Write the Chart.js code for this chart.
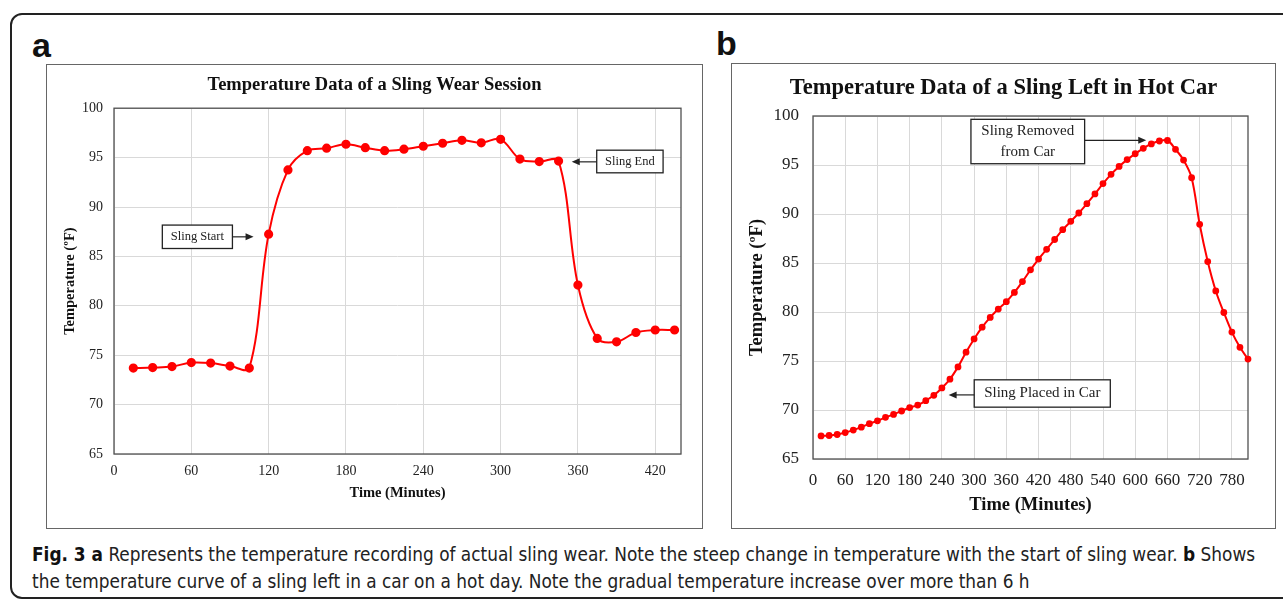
<html>
<head>
<script src="https://cdn.jsdelivr.net/npm/chart.js"></script>
<style>
  body { margin:0; background:#fff; }
  #page { position:relative; width:1283px; height:599px; overflow:hidden; }
  #frame { position:absolute; left:10px; top:13px; width:1300px; height:582px; border:2px solid #222; border-radius:12px; }
  .panel { position:absolute; border:1px solid #666; background:#fff; }
  .panel canvas { position:absolute; left:0; top:0; }
  .tag { position:absolute; font-family:'Liberation Sans', Arial, sans-serif; font-weight:bold; font-size:34px; line-height:34px; color:#111; }
  #caption { position:absolute; left:32px; top:541px; font-family:'Liberation Sans Narrow', 'DejaVu Sans Condensed', 'Open Sans', sans-serif; font-stretch:condensed; font-size:17px; line-height:27px; color:#222; white-space:nowrap; }
  #caption b { font-weight:bold; color:#111; }
</style>
</head>
<body>
<div id="page">
  <div id="frame"></div>
  <div class="tag" style="left:32px; top:28px;">a</div>
  <div class="tag" style="left:716px; top:26px;">b</div>
  <div class="panel" style="left:46px; top:64px; width:655px; height:463px;">
    <canvas id="chartA" width="655" height="463"></canvas>
  </div>
  <div class="panel" style="left:731px; top:63px; width:543px; height:464px;">
    <canvas id="chartB" width="543" height="464"></canvas>
  </div>
  <div id="caption"><span id="line1"><b>Fig. 3 a</b> Represents the temperature recording of actual sling wear. Note the steep change in temperature with the start of sling wear. <b>b</b> Shows</span><br>the temperature curve of a sling left in a car on a hot day. Note the gradual temperature increase over more than 6 h</div>
</div>
<script>
// Panel a: sling wear session, reading every 15 min
const timeA = [15, 30, 45, 60, 75, 90, 105, 120, 135, 150, 165, 180, 195, 210, 225,
               240, 255, 270, 285, 300, 315, 330, 345, 360, 375, 390, 405, 420, 435];
const tempA = [73.7, 73.75, 73.85, 74.25, 74.2, 73.9, 73.7, 87.25, 93.75, 95.7, 95.95, 96.35, 96.0, 95.7, 95.85,
               96.15, 96.45, 96.75, 96.5, 96.85, 94.85, 94.6, 94.65, 82.1, 76.7, 76.35, 77.3, 77.55, 77.55];

// Panel b: sling left in hot car, reading every 15 min
const timeB = [15, 30, 45, 60, 75, 90, 105, 120, 135, 150, 165, 180, 195, 210, 225, 240, 255, 270,
               285, 300, 315, 330, 345, 360, 375, 390, 405, 420, 435, 450, 465, 480, 495, 510, 525, 540,
               555, 570, 585, 600, 615, 630, 645, 660, 675, 690, 705, 720, 735, 750, 765, 780, 795, 810];
const tempB = [67.35, 67.4, 67.5, 67.7, 67.95, 68.25, 68.6, 68.9, 69.25, 69.55, 69.9, 70.25, 70.5, 70.95, 71.5, 72.25, 73.15, 74.4,
               75.9, 77.25, 78.45, 79.45, 80.3, 81.05, 82.0, 83.1, 84.3, 85.4, 86.4, 87.4, 88.4, 89.25, 90.1, 91.05, 92.05, 93.1,
               94.05, 94.85, 95.55, 96.15, 96.7, 97.15, 97.45, 97.5, 96.6, 95.5, 93.7, 88.95, 85.15, 82.15, 79.95, 77.95, 76.4, 75.2];

const titleA = 'Temperature Data of a Sling Wear Session';
const titleB = 'Temperature Data of a Sling Left in Hot Car';
const xLabel = 'Time (Minutes)';
const yLabel = 'Temperature (\u00baF)';

// callout boxes, in data units: box [x1, y1, x2, y2], arrow from -> to
const notesA = [
  { lines: ['Sling Start'], box: [37.5, 88.17, 91.9, 85.8], from: [91.9, 86.98], to: [108.3, 86.98] },
  { lines: ['Sling End'], box: [374.6, 95.75, 426.1, 93.46], from: [374.6, 94.57], to: [355.2, 94.57] }
];
const notesB = [
  { lines: ['Sling Removed', 'from Car'], box: [294.1, 99.66, 505.8, 95.13], from: [505.8, 97.52], to: [620.5, 97.52] },
  { lines: ['Sling Placed in Car'], box: [300.2, 73.08, 553.6, 70.29], from: [300.2, 71.54], to: [252.6, 71.54] }
];

const serif = "'Liberation Serif', 'Times New Roman', serif";

// plot area border + callouts
const extras = {
  id: 'extras',
  beforeDatasetsDraw(chart) {
    const {ctx, chartArea: a} = chart;
    ctx.save();
    ctx.strokeStyle = '#505050';
    ctx.lineWidth = 1.3;
    ctx.strokeRect(a.left, a.top, a.right - a.left, a.bottom - a.top);
    ctx.restore();
  },
  afterDatasetsDraw(chart, args, opts) {
    const {ctx, scales: {x, y}} = chart;
    ctx.save();
    opts.items.forEach(n => {
      const x1 = x.getPixelForValue(n.box[0]), y1 = y.getPixelForValue(n.box[1]);
      const x2 = x.getPixelForValue(n.box[2]), y2 = y.getPixelForValue(n.box[3]);
      ctx.fillStyle = '#fff';
      ctx.fillRect(x1, y1, x2 - x1, y2 - y1);
      ctx.strokeStyle = '#222';
      ctx.lineWidth = 1.3;
      ctx.strokeRect(x1, y1, x2 - x1, y2 - y1);
      ctx.fillStyle = '#222';
      ctx.font = opts.size + 'px ' + serif;
      ctx.textAlign = 'center';
      ctx.textBaseline = 'middle';
      const lh = opts.size * 1.35;
      const cy = (y1 + y2) / 2 - (n.lines.length - 1) * lh / 2;
      n.lines.forEach((t, i) => ctx.fillText(t, (x1 + x2) / 2, cy + i * lh));
      // arrow
      const fx = x.getPixelForValue(n.from[0]), fy = y.getPixelForValue(n.from[1]);
      const tx = x.getPixelForValue(n.to[0]), ty = y.getPixelForValue(n.to[1]);
      const dir = Math.sign(tx - fx);
      ctx.beginPath();
      ctx.moveTo(fx, fy);
      ctx.lineTo(tx - dir * 6, ty);
      ctx.lineWidth = 1.2;
      ctx.stroke();
      ctx.beginPath();
      ctx.moveTo(tx, ty);
      ctx.lineTo(tx - dir * 8, ty - 3.5);
      ctx.lineTo(tx - dir * 8, ty + 3.5);
      ctx.closePath();
      ctx.fill();
    });
    ctx.restore();
  }
};

function makeChart(id, xs, ys, cfg) {
  return new Chart(document.getElementById(id), {
    type: 'line',
    data: {
      datasets: [{
        data: xs.map((t, i) => ({ x: t, y: ys[i] })),
        borderColor: '#ff0000',
        backgroundColor: '#ff0000',
        borderWidth: cfg.line,
        pointRadius: cfg.dot,
        pointHoverRadius: cfg.dot,
        tension: 0.35,
        clip: false
      }]
    },
    options: {
      responsive: false,
      animation: false,
      events: [],
      layout: { padding: 0 },
      plugins: {
        legend: { display: false },
        tooltip: { enabled: false },
        title: {
          display: true,
          text: cfg.title,
          color: '#111',
          font: { family: serif, size: cfg.titleSize, weight: 'bold' },
          padding: cfg.titlePad
        },
        extras: { items: cfg.notes, size: cfg.noteSize }
      },
      scales: {
        x: {
          type: 'linear',
          min: 0,
          max: cfg.xMax,
          afterFit: s => { s.height = cfg.xAxisH; },
          border: { display: false },
          grid: { color: '#d9d9d9', drawTicks: false },
          ticks: {
            stepSize: 60, includeBounds: false, autoSkip: false, maxRotation: 0,
            padding: cfg.xTickPad, color: '#222',
            font: { family: serif, size: cfg.tickSize }
          },
          title: {
            display: true, text: xLabel, color: '#111',
            font: { family: serif, size: cfg.axisTitleSize, weight: 'bold' },
            padding: { top: 0, bottom: cfg.xTitlePad }
          }
        },
        y: {
          min: 65,
          max: 100,
          afterFit: s => { s.width = cfg.yAxisW; },
          border: { display: false },
          grid: { color: '#d9d9d9', drawTicks: false },
          ticks: {
            stepSize: 5, padding: cfg.yTickPad, color: '#222',
            font: { family: serif, size: cfg.tickSize }
          },
          title: {
            display: true, text: yLabel, color: '#111',
            font: { family: serif, size: cfg.axisTitleSize, weight: 'bold' },
            padding: { top: cfg.yTitlePad, bottom: 0 }
          }
        },
        // empty right margin so the chart title stays centred on the panel
        gap: {
          type: 'linear', axis: 'y', position: 'right',
          afterFit: s => { s.width = cfg.padRight; },
          border: { display: false },
          grid: { display: false },
          ticks: { display: false }
        }
      }
    },
    plugins: [extras]
  });
}

makeChart('chartA', timeA, tempA, {
  title: titleA, titleSize: 18.5, titlePad: { top: 9, bottom: 12 },
  xMax: 440, padRight: 21, xAxisH: 74, yAxisW: 67,
  tickSize: 14, axisTitleSize: 14.5, xTickPad: 9, yTickPad: 11,
  xTitlePad: 26, yTitlePad: 15, line: 2, dot: 3.6,
  notes: notesA, noteSize: 12.5
});

makeChart('chartB', timeB, tempB, {
  title: titleB, titleSize: 22.5, titlePad: { top: 11, bottom: 14 },
  xMax: 810, padRight: 27, xAxisH: 69, yAxisW: 81,
  tickSize: 17, axisTitleSize: 18.5, xTickPad: 11, yTickPad: 14,
  xTitlePad: 12, yTitlePad: 14, line: 2, dot: 2.4,
  notes: notesB, noteSize: 15
});

// stretch caption to the width of the reference line
const line1 = document.getElementById('line1');
const cap = document.getElementById('caption');
const w = line1.getBoundingClientRect().width;
cap.style.fontSize = (17 * 1224 / w) + 'px';
</script>
</body>
</html>
